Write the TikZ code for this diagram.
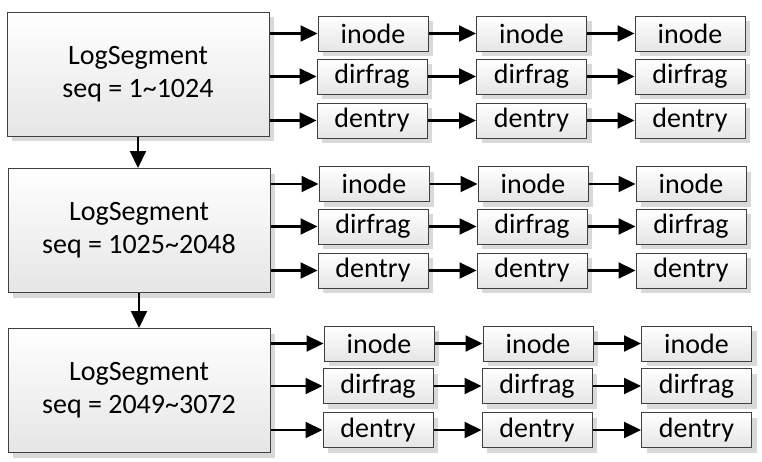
\documentclass[tikz,border=0pt]{standalone}
\usepackage{fontspec}
\setmainfont{Carlito}
\usetikzlibrary{arrows.meta,shadows}
\begin{document}
\begin{tikzpicture}[x=1pt,y=-1pt,
  boxbase/.style={draw=black!75, line width=1pt, top color=white, bottom color=black!10,
    drop shadow={shadow xshift=5pt, shadow yshift=-5pt, fill=black!15, opacity=1},
    inner sep=0pt, anchor=center},
  segbox/.style={boxbase, minimum width=262pt, minimum height=124pt, align=center,
    font=\fontsize{28}{33}\selectfont},
  itembox/.style={boxbase, minimum width=110pt, minimum height=35pt,
    font=\fontsize{28}{33}\selectfont},
  link/.style={line width=2.2pt, -{Triangle[length=17pt,width=16pt]}}]
\useasboundingbox (0,0) rectangle (762,461);

\node[segbox] (s1) at (138,74) {LogSegment\\seq = 1\textasciitilde 1024};
\node[segbox] (s2) at (139,230.5) {LogSegment\\seq = 1025\textasciitilde 2048};
\node[segbox] (s3) at (139,390.5) {LogSegment\\seq = 2049\textasciitilde 3072};

% segment 1 items
\node[itembox] (a11) at (373,33.5) {inode};
\node[itembox] (a12) at (531.5,33.5) {inode};
\node[itembox] (a13) at (690,33.5) {inode};
\node[itembox] (a21) at (372,76.5) {dirfrag};
\node[itembox] (a22) at (531.5,76.5) {dirfrag};
\node[itembox] (a23) at (690,76.5) {dirfrag};
\node[itembox] (a31) at (372,120.5) {dentry};
\node[itembox] (a32) at (531.5,120.5) {dentry};
\node[itembox] (a33) at (690,120.5) {dentry};

% segment 2 items
\node[itembox] (b11) at (374,184) {inode};
\node[itembox] (b12) at (533,184) {inode};
\node[itembox] (b13) at (691,184) {inode};
\node[itembox] (b21) at (373,226.5) {dirfrag};
\node[itembox] (b22) at (532,226.5) {dirfrag};
\node[itembox] (b23) at (691,226.5) {dirfrag};
\node[itembox] (b31) at (373,270.5) {dentry};
\node[itembox] (b32) at (532,270.5) {dentry};
\node[itembox] (b33) at (691,270.5) {dentry};

% segment 3 items
\node[itembox] (c11) at (379,343.5) {inode};
\node[itembox] (c12) at (538,343.5) {inode};
\node[itembox] (c13) at (696.5,343.5) {inode};
\node[itembox] (c21) at (378,386) {dirfrag};
\node[itembox] (c22) at (537,386) {dirfrag};
\node[itembox] (c23) at (696.5,386) {dirfrag};
\node[itembox] (c31) at (378,430) {dentry};
\node[itembox] (c32) at (537,430) {dentry};
\node[itembox] (c33) at (696.5,430) {dentry};

% vertical links
\draw[link] (s1.south) -- (s1.south |- s2.north);
\draw[link] (s2.south) -- (s2.south |- s3.north);

% links from segments and along rows
\foreach \s/\r in {s1/a,s2/b,s3/c}{
  \foreach \k in {1,2,3}{
    \draw[link] (\s.east |- \r\k1.west) -- (\r\k1.west);
    \draw[link] (\r\k1.east) -- (\r\k2.west);
    \draw[link] (\r\k2.east) -- (\r\k3.west);
  }
}
\end{tikzpicture}
\end{document}
